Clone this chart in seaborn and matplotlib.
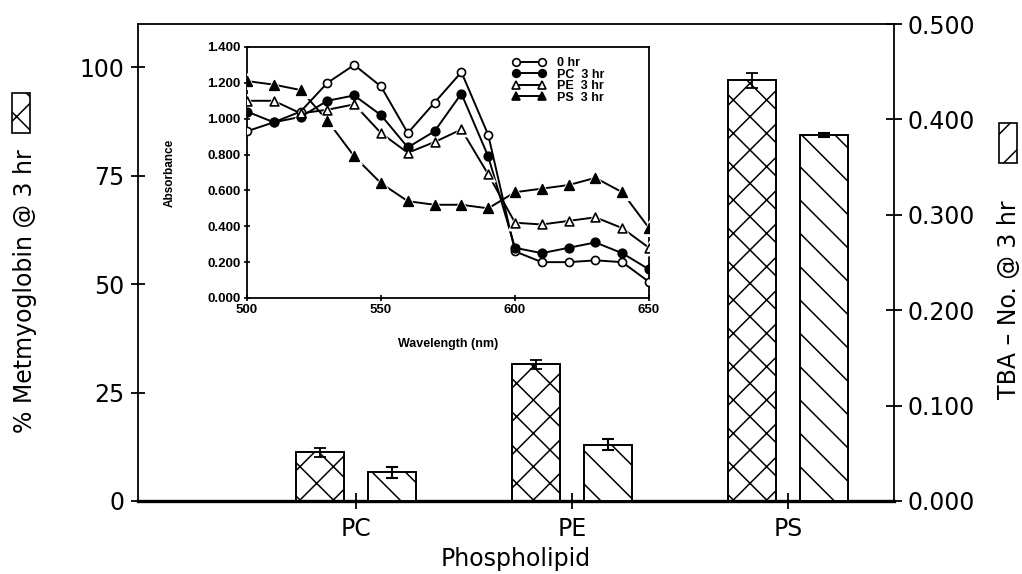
import numpy as np
import pandas as pd
import matplotlib
matplotlib.use("Agg")
import matplotlib.pyplot as plt
import seaborn as sns
from matplotlib.patches import Rectangle
from matplotlib.lines import Line2D
from matplotlib.ticker import FormatStrFormatter

# ---------------- data ----------------
categories = ["PC", "PE", "PS"]
metmyoglobin = [11.2, 31.5, 97.0]
metmyoglobin_err = [1.0, 1.0, 1.8]
tba_number = [0.030, 0.059, 0.384]
tba_err = [0.006, 0.006, 0.002]

left_ticks = [0, 25, 50, 75, 100]
right_ticks = [0.0, 0.1, 0.2, 0.3, 0.4, 0.5]

wavelength = [500, 510, 520, 530, 540, 550, 560, 570, 580, 590, 600, 610, 620, 630, 640, 650]
abs_0hr = [0.93, 0.98, 1.04, 1.20, 1.30, 1.18, 0.92, 1.09, 1.26, 0.91, 0.26, 0.20, 0.20, 0.21, 0.20, 0.09]
abs_pc3 = [1.04, 0.98, 1.01, 1.10, 1.13, 1.02, 0.84, 0.93, 1.14, 0.79, 0.28, 0.25, 0.28, 0.31, 0.25, 0.16]
abs_pe3 = [1.10, 1.10, 1.03, 1.05, 1.08, 0.92, 0.81, 0.87, 0.94, 0.69, 0.42, 0.41, 0.43, 0.45, 0.39, 0.28]
abs_ps3 = [1.21, 1.19, 1.16, 0.99, 0.79, 0.64, 0.54, 0.52, 0.52, 0.50, 0.59, 0.61, 0.63, 0.67, 0.59, 0.39]
series_labels = ["0 hr", "PC  3 hr", "PE  3 hr", "PS  3 hr"]
inset_xticks = [500, 550, 600, 650]
inset_yticks = [0.0, 0.2, 0.4, 0.6, 0.8, 1.0, 1.2, 1.4]

# ---------------- style ----------------
sns.set_style("ticks")
plt.rcParams["font.family"] = ["DejaVu Sans"]
plt.rcParams["hatch.linewidth"] = 1.1
for k in ["text.color", "axes.labelcolor", "xtick.color", "ytick.color", "axes.edgecolor"]:
    plt.rcParams[k] = "black"

W, H = 1022, 574
fig = plt.figure(figsize=(W / 100, H / 100), dpi=100)
fig.patch.set_facecolor("white")

ax = fig.add_axes([138 / W, 1 - 501 / H, (894 - 138) / W, (501 - 24) / H])
ax2 = ax.twinx()

df_met = pd.DataFrame({"Phospholipid": categories, "value": metmyoglobin, "measure": "Met"})
df_tba = pd.DataFrame({"Phospholipid": categories, "value": tba_number, "measure": "TBA"})
pal = {"Met": "white", "TBA": "white"}

sns.barplot(data=df_met, x="Phospholipid", y="value", hue="measure", hue_order=["Met", "TBA"],
            order=categories, palette=pal, width=0.667, gap=0.34, dodge=True, edgecolor="black",
            linewidth=1.4, errorbar=None, legend=False, ax=ax)
sns.barplot(data=df_tba, x="Phospholipid", y="value", hue="measure", hue_order=["Met", "TBA"],
            order=categories, palette=pal, width=0.667, gap=0.34, dodge=True, edgecolor="black",
            linewidth=1.4, errorbar=None, legend=False, ax=ax2)

for p in ax.patches:
    p.set_hatch("x")
for p in ax2.patches:
    p.set_hatch("\\")

met_x = [p.get_x() + p.get_width() / 2 for p in ax.patches]
tba_x = [p.get_x() + p.get_width() / 2 for p in ax2.patches]
ax.errorbar(met_x, metmyoglobin, yerr=metmyoglobin_err, fmt="none", ecolor="black",
            elinewidth=1.3, capsize=4, capthick=1.3, zorder=5)
ax2.errorbar(tba_x, tba_number, yerr=tba_err, fmt="none", ecolor="black",
             elinewidth=1.5, capsize=4, capthick=1.5, zorder=5)

ax.set_xlim(-1.01, 2.49)
ax.set_ylim(0, 110)
ax2.set_ylim(0, 0.5)
ax.set_yticks(left_ticks)
ax2.set_yticks(right_ticks)
ax2.yaxis.set_major_formatter(FormatStrFormatter("%.3f"))

for s in ["left", "top"]:
    ax.spines[s].set_linewidth(1.3)
ax.spines["bottom"].set_linewidth(2.4)
ax.spines["right"].set_visible(False)
for s in ["left", "top", "bottom"]:
    ax2.spines[s].set_visible(False)
ax2.spines["right"].set_visible(True)
ax2.spines["right"].set_linewidth(1.3)

ax.tick_params(axis="y", direction="inout", length=10, width=1.3, labelsize=17, pad=5,
               left=True, right=False)
ax.tick_params(axis="x", direction="inout", length=11, width=1.3, labelsize=17, pad=6,
               bottom=True, top=False)
ax2.tick_params(axis="y", direction="inout", length=11, width=1.3, labelsize=17, pad=4,
                right=True, left=False)
ax.set_ylabel("")
ax2.set_ylabel("")
ax.set_xlabel("Phospholipid", fontsize=17)
ax.xaxis.set_label_coords(0.5, -(553 - 501) / 477 + 0.012)

# side labels with pattern key boxes
fig.text(25 / W, 1 - 291 / H, "% Metmyoglobin @ 3 hr", rotation=90, ha="center", va="center",
         fontsize=17)
fig.add_artist(Rectangle((12 / W, 1 - 133 / H), 18 / W, 40 / H, transform=fig.transFigure,
                         facecolor="white", edgecolor="black", lw=1.2, hatch="x"))
fig.text(1009 / W, 1 - 300 / H, "TBA \u2013 No. @ 3 hr", rotation=90, ha="center", va="center",
         fontsize=17)
fig.add_artist(Rectangle((999 / W, 1 - 163 / H), 18 / W, 40 / H, transform=fig.transFigure,
                         facecolor="white", edgecolor="black", lw=1.2, hatch="/"))

# ---------------- inset ----------------
bold = {"family": "Liberation Sans", "weight": "bold"}
iax = fig.add_axes([247 / W, 1 - 298 / H, (649 - 247) / W, (298 - 47) / H])
iax.set_zorder(10)
iax.set_facecolor("white")

series = [abs_0hr, abs_pc3, abs_pe3, abs_ps3]
markers = ["o", "o", "^", "^"]
faces = ["white", "black", "white", "black"]
sizes = [34, 38, 40, 48]
halo = [False, False, True, True]

for vals, m, fc, s, h in zip(series, markers, faces, sizes, halo):
    sns.lineplot(x=wavelength, y=vals, color="black", lw=1.4, ax=iax, zorder=2)
    if h:
        sns.scatterplot(x=wavelength, y=vals, marker=m, s=s * 3.2, color="white",
                        linewidth=0, ax=iax, zorder=3)
    sns.scatterplot(x=wavelength, y=vals, marker=m, s=s, color=fc, edgecolor="black",
                    linewidth=1.2, ax=iax, zorder=4)

iax.set_xlim(500, 650)
iax.set_ylim(0, 1.4)
iax.set_xticks(inset_xticks)
iax.set_yticks(inset_yticks)
iax.yaxis.set_major_formatter(FormatStrFormatter("%.3f"))
iax.tick_params(direction="inout", length=5, width=1.2, pad=2)
for lab in iax.get_xticklabels() + iax.get_yticklabels():
    lab.set_fontproperties(bold)
    lab.set_fontsize(9.5)
for s in iax.spines.values():
    s.set_linewidth(1.3)
    s.set_visible(True)
iax.set_xlabel("Wavelength (nm)", fontdict=bold, fontsize=9)
iax.set_ylabel("Absorbance", fontdict=bold, fontsize=8.5)
iax.xaxis.set_label_coords(0.5, -(338 - 298) / 251)
iax.yaxis.set_label_coords((176 - 247) / 402, 0.5)

handles = [Line2D([0], [0], color="black", lw=1.4, marker=m, mfc=fc, mec="black",
                  ms=5.5 if m == "o" else 6, mew=1.2)
           for m, fc in zip(markers, faces)]
iax.legend(handles, series_labels, loc="upper left", bbox_to_anchor=(0.66, 0.96),
           frameon=False, numpoints=2, handlelength=2.7, handletextpad=0.9,
           labelspacing=-0.04, borderpad=0, borderaxespad=0,
           prop={"family": "Liberation Sans", "weight": "bold", "size": 9})

fig.savefig("out.png", dpi=100, facecolor="white")
